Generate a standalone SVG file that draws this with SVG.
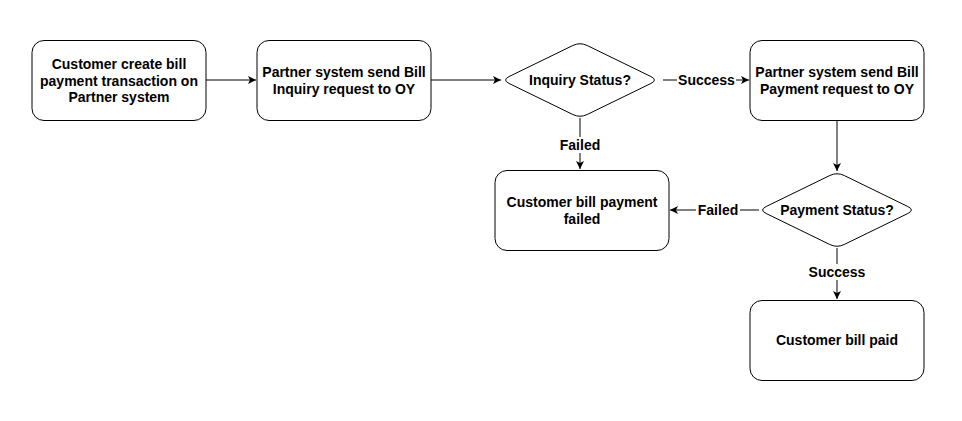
<svg xmlns="http://www.w3.org/2000/svg" width="962" height="421" viewBox="0 0 962 421">
<defs>
<marker id="arr" viewBox="0 0 10 10" refX="10" refY="5" markerWidth="8" markerHeight="8" markerUnits="userSpaceOnUse" orient="auto">
<path d="M0,0 L10,5 L0,10 L2.5,5 Z" fill="#000"/>
</marker>
</defs>
<style>
.box{fill:#fff;stroke:#000;stroke-width:1}
.t{font-family:"Liberation Sans",Arial,sans-serif;font-size:14px;font-weight:bold;fill:#000;text-anchor:middle}
.c{fill:none;stroke:#000;stroke-width:1;marker-end:url(#arr)}
.lb{fill:#fff}
</style>
<rect width="962" height="421" fill="#fff"/>
<g id="connectors">
<path class="c" d="M206,80 H256"/>
<path class="c" d="M431,80 H501"/>
<path class="c" d="M663,80 H749"/>
<path class="c" d="M580,118 V169"/>
<path class="c" d="M837,120 V171"/>
<path class="c" d="M759,210 H670"/>
<path class="c" d="M837,248 V299"/>
<rect class="lb" x="677" y="72" width="59" height="16"/>
<text class="t" x="706.5" y="85">Success</text>
<rect class="lb" x="559" y="137" width="42" height="16"/>
<text class="t" x="580" y="150">Failed</text>
<rect class="lb" x="696" y="202" width="44" height="16"/>
<text class="t" x="718" y="215">Failed</text>
<rect class="lb" x="807" y="264" width="60" height="16"/>
<text class="t" x="837" y="277">Success</text>
</g>
<g id="n1">
<rect class="box" x="32" y="40.5" width="174" height="80" rx="12"/>
<text class="t" x="119" y="68.8">Customer create bill</text>
<text class="t" x="119" y="85.6">payment transaction on</text>
<text class="t" x="119" y="102.4">Partner system</text>
</g>
<g id="n2">
<rect class="box" x="257" y="40.5" width="174" height="80" rx="12"/>
<text class="t" x="344" y="77">Partner system send Bill</text>
<text class="t" x="344" y="93.8">Inquiry request to OY</text>
</g>
<g id="d1">
<path class="box" d="M572.8,45.5 Q580,42 587.2,45.5 L650.8,76.5 Q658,80 650.8,83.5 L587.2,114.5 Q580,118 572.8,114.5 L509.2,83.5 Q502,80 509.2,76.5 Z"/>
<text class="t" x="580" y="85">Inquiry Status?</text>
</g>
<g id="n3">
<rect class="box" x="750" y="40.5" width="174" height="80" rx="12"/>
<text class="t" x="837" y="77">Partner system send Bill</text>
<text class="t" x="837" y="93.8">Payment request to OY</text>
</g>
<g id="n4">
<rect class="box" x="495" y="170.5" width="174" height="80" rx="12"/>
<text class="t" x="582" y="207">Customer bill payment</text>
<text class="t" x="582" y="223.8">failed</text>
</g>
<g id="d2">
<path class="box" d="M829.8,175.5 Q837,172 844.2,175.5 L907.8,206.5 Q915,210 907.8,213.5 L844.2,244.5 Q837,248 829.8,244.5 L766.2,213.5 Q759,210 766.2,206.5 Z"/>
<text class="t" x="837" y="215">Payment Status?</text>
</g>
<g id="n5">
<rect class="box" x="750" y="300.5" width="174" height="80" rx="12"/>
<text class="t" x="837" y="345">Customer bill paid</text>
</g>
</svg>
